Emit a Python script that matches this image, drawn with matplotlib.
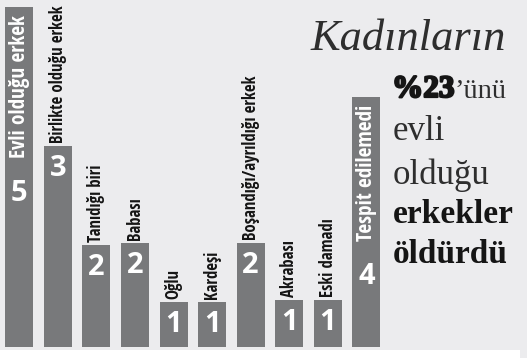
import matplotlib
matplotlib.use("Agg")
import matplotlib.pyplot as plt
import matplotlib.patheffects as pe
from matplotlib import font_manager as fm
from matplotlib.font_manager import FontProperties
from matplotlib.textpath import TextPath
from matplotlib.patches import Rectangle

# ---- data (read from the graphic) ----
categories = ["Evli olduğu erkek", "Birlikte olduğu erkek", "Tanıdığı biri", "Babası",
              "Oğlu", "Kardeşi", "Boşandığı/ayrıldığı erkek", "Akrabası",
              "Eski damadı", "Tespit edilemedi"]
counts = [5, 3, 2, 2, 1, 1, 2, 1, 1, 4]
# drawn bar heights as they appear in the infographic (not to scale with counts)
bar_heights = [340, 201, 102, 104, 45, 45, 104, 47, 47, 250]

headline = "Kadınların"
pct = "%23"
pct_suffix = "’ünü"
body_lines = ["evli", "olduğu", "erkekler", "öldürdü"]
body_bold = [False, False, True, True]

# ---- style ----
W, H = 527, 358
BG = "#ececee"
BAR = "#78797b"
DARK = "#151515"
GREY_TXT = "#2e2e2e"
SERIF = "Liberation Serif"
inside_label = {0, len(categories) - 1}


def pick_condensed_bold():
    pref = ["Open Sans", "Noto Sans", "DejaVu Sans", "Roboto", "Liberation Sans", "Lato"]
    best, best_score = None, None
    for f in fm.fontManager.ttflist:
        nm = f.name
        st = str(f.stretch).lower()
        is_cond = (("condensed" in st and "extra" not in st and "ultra" not in st)
                   or "Narrow" in nm or ("Condensed" in nm and "Extra" not in nm))
        if not is_cond or "Mono" in nm or "Serif" in nm:
            continue
        try:
            w = int(f.weight)
        except (TypeError, ValueError):
            w = 700 if "bold" in str(f.weight).lower() else 400
        if "italic" in str(f.style).lower() or "oblique" in str(f.style).lower():
            continue
        score = abs(w - 700) / 100.0
        base = next((i for i, p in enumerate(pref) if nm.startswith(p)), len(pref))
        score += base * 0.5
        if "semi" in st:
            score -= 0.3
        if best_score is None or score < best_score:
            best, best_score = f, score
    if best is not None:
        return FontProperties(fname=best.fname)
    return FontProperties(family="Roboto", weight="bold")


def text_len_px(s, fp, size):
    return TextPath((0, 0), s, size=size, prop=fp).get_extents().width * 100 / 72


base_fp = pick_condensed_bold()
# fit label sizes to the lengths seen in the reference
outside_cats = [c for i, c in enumerate(categories) if i not in inside_label]
meas = sum(text_len_px(c, base_fp, 12) for c in outside_cats)
size_total = 12 * 723.0 / meas
size_longest = 12 * 137.0 / text_len_px(categories[1], base_fp, 12)
out_size = max(8.0, min(15.0, size_total, size_longest))
meas_in = sum(text_len_px(categories[i], base_fp, 12) for i in sorted(inside_label))
in_size = max(8.0, min(16.0, 12 * (140.0 + 135.0) / meas_in))

out_fp = base_fp.copy(); out_fp.set_size(out_size)
in_fp = base_fp.copy(); in_fp.set_size(in_size)
num_fp = FontProperties(family="Open Sans", weight="bold", size=21)

fig = plt.figure(figsize=(W / 100, H / 100), dpi=100, facecolor=BG)
fig.patches.append(Rectangle((0, 0), 520 / W, 8 / H, transform=fig.transFigure,
                             facecolor="white", edgecolor="none", zorder=0))

ax = fig.add_axes([0, 11 / H, 1, 1 - 11 / H])
ax.set_facecolor("none")
ax.set_xlim(-0.5005, 13.166)
ax.set_ylim(0, 347)
ax.axis("off")

bars = ax.bar(range(len(categories)), bar_heights, width=0.726, color=BAR, linewidth=0)

for i, (b, cat, n) in enumerate(zip(bars, categories, counts)):
    xc = b.get_x() + b.get_width() / 2
    top = b.get_height()
    if i in inside_label:
        lab = ax.annotate(cat, (xc, top), xytext=(0, -8), textcoords="offset pixels",
                          rotation=90, ha="center", va="top", color="white",
                          fontproperties=in_fp)
        ax.annotate(str(n), xy=(0.5, 0), xycoords=lab, xytext=(0, -21),
                    textcoords="offset pixels", ha="center", va="top", color="white",
                    fontproperties=num_fp)
    else:
        ax.annotate(cat, (xc, top), xytext=(0, 3), textcoords="offset pixels",
                    rotation=90, ha="center", va="bottom", color=DARK,
                    fontproperties=out_fp)
        ax.annotate(str(n), (xc, top), xytext=(0, -8), textcoords="offset pixels",
                    ha="center", va="top", color="white", fontproperties=num_fp)

# ---- right-hand headline ----
fig.text(311 / W, 1 - 50 / H, headline, fontsize=32, family=SERIF, style="italic",
         color=GREY_TXT, va="baseline", ha="left")
t = fig.text(392 / W, 1 - 97 / H, pct, fontsize=22.5, fontweight="bold", family=SERIF,
             color=DARK, va="baseline", ha="left",
             path_effects=[pe.withStroke(linewidth=1.6, foreground=DARK)])
ax.annotate(pct_suffix, xy=(1, 0), xycoords=t, xytext=(0, 0), textcoords="offset pixels",
            ha="left", va="bottom", fontsize=20.5, family=SERIF, color=GREY_TXT)

baselines = [140, 184, 223, 263]
for line, bold, yb in zip(body_lines, body_bold, baselines):
    fig.text(393 / W, 1 - yb / H, line, fontsize=24 if bold else 25, family=SERIF,
             fontweight="bold" if bold else "normal",
             color=DARK if bold else GREY_TXT, va="baseline", ha="left")

fig.savefig("out.png", dpi=100, facecolor=BG)
